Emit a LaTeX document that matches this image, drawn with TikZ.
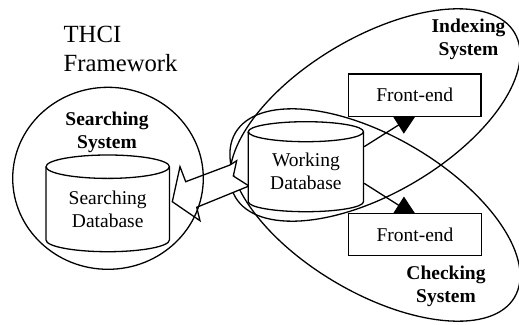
\documentclass[tikz,border=0pt]{standalone}
\usepackage{fontspec}
\setmainfont{Liberation Serif}
\usetikzlibrary{arrows.meta}
\begin{document}
\begin{tikzpicture}[x=1pt,y=-1pt, line width=1.3pt,
  txt/.style={inner sep=0pt, align=center, font=\fontsize{19.5pt}{23pt}\selectfont},
  boldtxt/.style={inner sep=0pt, align=center, font=\fontsize{19.5pt}{23pt}\selectfont\bfseries},
  febox/.style={draw, fill=white, minimum width=132.7pt, minimum height=42.5pt, inner sep=0pt, font=\fontsize{19.5pt}{23pt}\selectfont},
  conn/.style={-{Triangle[length=22.7pt,width=20pt]}}]
\fill[white] (0,0) rectangle (519,324);
\useasboundingbox (0,0) rectangle (519,324);
% Indexing and Checking systems
\draw[rotate around={30.5:(375,115)}] (375,115) ellipse [x radius=162pt, y radius=78pt];
\draw[rotate around={-30.5:(375,215)}] (375,215) ellipse [x radius=162pt, y radius=78pt];
% hollow block arrow
\draw[fill=white, line join=miter] (172.3,201.7) -- (180,166.7) -- (185.7,181.7) -- (230,165) -- (236.7,160.7)
  -- (233.3,176) -- (249,186) -- (196.7,207.3) -- (200,220.7) -- cycle;
% Searching system circle
\draw (108,178.3) ellipse [x radius=95.3pt, y radius=91pt];
% Searching database cylinder
\draw[fill=white] (46,166.7) -- (46,240) arc[start angle=180,end angle=360,x radius=61.7pt,y radius=11.7pt]
  -- (169.4,166.7) arc[start angle=0,end angle=180,x radius=61.7pt,y radius=11.7pt] -- cycle;
\draw (46,166.7) arc[start angle=180,end angle=360,x radius=61.7pt,y radius=11.7pt];
% Working database cylinder
\draw[fill=white] (248.3,131.7) -- (248.3,201.7) arc[start angle=180,end angle=360,x radius=57.6pt,y radius=10pt]
  -- (363.5,131.7) arc[start angle=0,end angle=180,x radius=57.6pt,y radius=10pt] -- cycle;
\draw (248.3,131.7) arc[start angle=180,end angle=360,x radius=57.6pt,y radius=10pt];
% texts
\node[txt, align=left, anchor=west, font=\fontsize{24.7pt}{28.4pt}\selectfont] (title) at (63,49) {THCI\\Framework};
\node[boldtxt] (srch) at (107,132) {Searching\\System};
\node[txt] (sdb) at (107.7,209) {Searching\\Database};
\node[txt, minimum width=115.2pt] (wdb) at (305.9,171.5) {Working\\Database};
\node[boldtxt] (idx) at (468.5,39.7) {Indexing\\System};
\node[boldtxt] (chk) at (446,286.8) {Checking\\System};
% connectors
\coordinate (t1) at (417.6,113);
\coordinate (t2) at (417.6,217.3);
\draw[conn] ([yshift=24.8pt]wdb.east) -- (t1);
\draw[conn] ([yshift=-11.8pt]wdb.east) -- (t2);
% front-ends
\node[febox] (fe1) at (414.7,95.3) {Front-end};
\node[febox] (fe2) at (415,234.5) {Front-end};
\end{tikzpicture}
\end{document}
